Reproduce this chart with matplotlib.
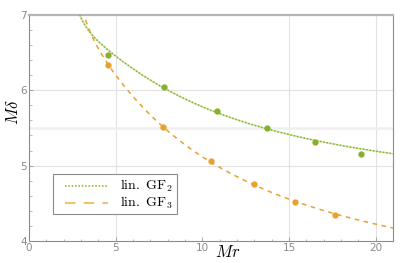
import numpy as np
import matplotlib
matplotlib.use("Agg")
import matplotlib.pyplot as plt
from matplotlib.ticker import MultipleLocator
from matplotlib.patches import Rectangle

plt.rcParams["mathtext.fontset"] = "cm"

# data points
gf2_r = [4.58, 7.77, 10.87, 13.73, 16.5, 19.14]
gf2_d = [6.47, 6.04, 5.72, 5.50, 5.32, 5.16]
gf3_r = [4.53, 7.71, 10.47, 13.0, 15.36, 17.66]
gf3_d = [6.33, 5.51, 5.06, 4.76, 4.52, 4.34]

# samples
fit2_r = [2.92, 4.0, 5.0, 7.77, 10.87, 15.0, 20.0, 21.0]
fit2_d = [7.00, 6.67, 6.43, 6.02, 5.73, 5.41, 5.20, 5.14]
fit3_r = [3.16, 4.0, 4.53, 7.71, 10.47, 13.0, 15.36, 17.66, 20.0, 21.0]
fit3_d = [7.00, 6.58, 6.33, 5.51, 5.06, 4.76, 4.52, 4.34, 4.22, 4.18]

legend_labels = [r"$\mathrm{lin.\ GF}_2$", r"$\mathrm{lin.\ GF}_3$"]

green = "#86b12a"
green_light = "#cfe2a3"
orange = "#e9a02e"
orange_light = "#f2c26e"
frame = "#9a9a9a"


def smooth(xs, ys, lo, hi):
    # cubic in 1/r through the read curve samples
    c = np.polyfit(1.0 / np.array(xs), ys, 3)
    r = np.linspace(lo, hi, 300)
    return r, np.polyval(c, 1.0 / r)


r2, f2 = smooth(fit2_r, fit2_d, 2.85, 21)
r3, f3 = smooth(fit3_r, fit3_d, 3.1, 21)

fig = plt.figure(figsize=(4.15, 2.63), dpi=100)
ax = fig.add_axes([0.070, 0.084, 0.877, 0.859])

ax.set_xlim(0, 21)
ax.set_ylim(4, 7)

for xv in [5, 15, 20]:
    ax.axvline(xv, color="#e2e2e2", lw=0.8, zorder=0)
for yv in [5, 6]:
    ax.axhline(yv, color="#e2e2e2", lw=0.8, zorder=0)
ax.axhline(5.5, color="#efefef", lw=1.8, zorder=0)

ax.plot(r2, f2, color=green_light, lw=1.0, zorder=2)
ax.plot(r2, f2, color=green, lw=1.1, ls=(0, (1, 1.2)), zorder=3)
ax.plot(r3, f3, color=orange, lw=1.1, ls=(0, (3, 3)), zorder=3)
ax.plot(gf2_r, gf2_d, "o", color=green, ms=3.5, zorder=4)
ax.plot(gf3_r, gf3_d, "o", color=orange, ms=3.5, zorder=4)

ax.xaxis.set_major_locator(MultipleLocator(5))
ax.xaxis.set_minor_locator(MultipleLocator(1))
ax.yaxis.set_major_locator(MultipleLocator(1))
ax.yaxis.set_minor_locator(MultipleLocator(0.2))
ax.tick_params(which="both", direction="in", colors=frame, labelcolor="#8a8a8a",
               labelsize=7.5, top=False, right=False)
ax.tick_params(which="major", length=3, width=0.6)
ax.tick_params(which="minor", length=1.8, width=0.5)
ax.tick_params(axis="x", pad=1.5)
ax.tick_params(axis="y", pad=1.5)

for s in ["left", "bottom", "right"]:
    ax.spines[s].set_color("#8c8c8c")
    ax.spines[s].set_linewidth(0.8)
ax.spines["top"].set_color("#b4b4b4")
ax.spines["top"].set_linewidth(1.6)

ax.text(0.547, -0.05, r"$Mr$", fontsize=12, transform=ax.transAxes,
        ha="center", va="center")
ax.text(-0.043, 0.571, r"$M\delta$", fontsize=12, transform=ax.transAxes,
        ha="center", va="center", rotation=90)

# legend box drawn by hand so the padding matches
ax.add_patch(Rectangle((0.066, 0.119), 0.341, 0.177, transform=ax.transAxes,
                       facecolor="white", edgecolor="#8c8c8c", lw=0.8, zorder=5))
styles = [dict(color=green, lw=1.1, ls=(0, (1, 1.2))),
          dict(color=orange_light, lw=1.5, ls=(0, (5, 4)))]
for i, (lab, st) in enumerate(zip(legend_labels, styles)):
    y = 0.245 - i * 0.078
    ax.plot([0.099, 0.217], [y, y], transform=ax.transAxes, zorder=6, **st)
    ax.text(0.25, y, lab, fontsize=10, transform=ax.transAxes,
            ha="left", va="center", zorder=6)

fig.savefig("out.png", dpi=100)
